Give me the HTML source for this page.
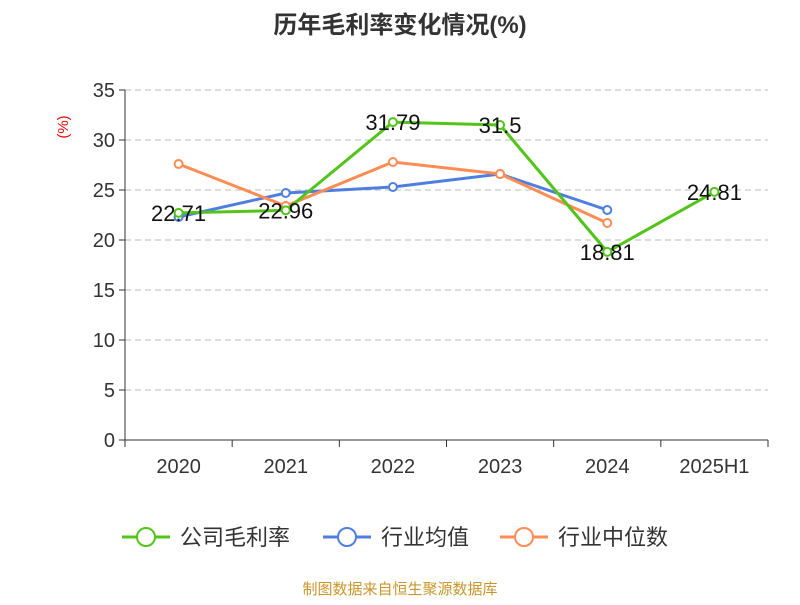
<!DOCTYPE html>
<html><head><meta charset="utf-8"><style>
body{margin:0;background:#fff;}
svg text{font-family:"Liberation Sans","Noto Sans CJK SC",sans-serif;}
</style></head><body>
<svg width="800" height="600" xmlns="http://www.w3.org/2000/svg">
<text x="400" y="33" text-anchor="middle" font-size="24" font-weight="bold" fill="#333">历年毛利率变化情况(%)</text>
<text x="68" y="127" text-anchor="middle" font-size="15" fill="#e00" transform="rotate(-90 68 127)">(%)</text>
<g id="grid"></g><g id="axes"></g><g id="series"></g>
<g>
<g><line x1="122" y1="537" x2="170" y2="537" stroke="#52c41a" stroke-width="3"/><circle cx="146" cy="537" r="9" fill="#fff" stroke="#52c41a" stroke-width="2"/><text x="180" y="545" font-size="22" fill="#333">公司毛利率</text></g>
<g><line x1="323" y1="537" x2="371" y2="537" stroke="#4e7fe0" stroke-width="3"/><circle cx="347" cy="537" r="9" fill="#fff" stroke="#4e7fe0" stroke-width="2"/><text x="381" y="545" font-size="22" fill="#333">行业均值</text></g>
<g><line x1="500" y1="537" x2="548" y2="537" stroke="#ff8c55" stroke-width="3"/><circle cx="524" cy="537" r="9" fill="#fff" stroke="#ff8c55" stroke-width="2"/><text x="558" y="545" font-size="22" fill="#333">行业中位数</text></g>
</g>
<text x="400" y="594" text-anchor="middle" font-size="15" fill="#c8962a">制图数据来自恒生聚源数据库</text>
</svg>
<script>
const categories=["2020","2021","2022","2023","2024","2025H1"];
const companyValues=[22.71,22.96,31.79,31.5,18.81,24.81];
const industryAvg=[22.3,24.7,25.3,26.6,23.0,null];
const industryMedian=[27.6,23.4,27.8,26.6,21.7,null];
const yTicks=[0,5,10,15,20,25,30,35];
const NS="http://www.w3.org/2000/svg";
const x0=125,x1=768,y0=440,yTop=90,yMax=35;
const bw=(x1-x0)/categories.length;
const X=i=>x0+bw*(i+0.5);
const Y=v=>y0-(v/yMax)*(y0-yTop);
function mk(tag,attrs,parent){const e=document.createElementNS(NS,tag);for(const k in attrs)e.setAttribute(k,attrs[k]);parent.appendChild(e);return e;}
const grid=document.getElementById('grid'),axes=document.getElementById('axes'),ser=document.getElementById('series');
yTicks.forEach(t=>{
 if(t>0){const l=mk('line',{x1:x0,x2:x1,y1:Y(t),y2:Y(t),stroke:'#bbb','stroke-dasharray':'6,4'},grid);
 
 }
 const tk=mk('line',{x1:x0-6,x2:x0,y1:Y(t),y2:Y(t),stroke:'#333'},axes);
 
 
 const tx=mk('text',{x:x0-10,y:Y(t)+7,'text-anchor':'end','font-size':20,fill:'#333'},axes);tx.textContent=t;
 
 
});
const ya=mk('line',{x1:x0,x2:x0,y1:yTop,y2:y0,stroke:'#333'},axes);


const xa=mk('line',{x1:x0,x2:x1,y1:y0,y2:y0,stroke:'#333'},axes);


for(let i=0;i<=categories.length;i++){const t=mk('line',{x1:x0+bw*i,x2:x0+bw*i,y1:y0,y2:y0+7,stroke:'#333'},axes);
 
 }
categories.forEach((c,i)=>{const t=mk('text',{x:X(i),y:y0+33,'text-anchor':'middle','font-size':20,fill:'#333'},axes);t.textContent=c;
 
 });
function drawSeries(vals,color,name,labels){
 const g=mk('g',{},ser);
 
 
 const pts=vals.map((v,i)=>v==null?null:[X(i),Y(v)]).filter(p=>p);
 const pl=mk('polyline',{points:pts.map(p=>p.join(',')).join(' '),fill:'none',stroke:color,'stroke-width':3},g);
 
 
 vals.forEach((v,i)=>{if(v==null)return;
  const c=mk('circle',{cx:X(i),cy:Y(v),r:4,fill:'#fff',stroke:color,'stroke-width':2},g);
  
  
  if(labels){const t=mk('text',{x:X(i),y:Y(v)+8,'text-anchor':'middle','font-size':22,fill:'#111'},g);t.textContent=v;
   
   }
 });
}
drawSeries(industryAvg,'#4e7fe0','industry-avg-series',false);
drawSeries(industryMedian,'#ff8c55','industry-median-series',false);
drawSeries(companyValues,'#52c41a','company-series',true);
</script>
</body></html>
